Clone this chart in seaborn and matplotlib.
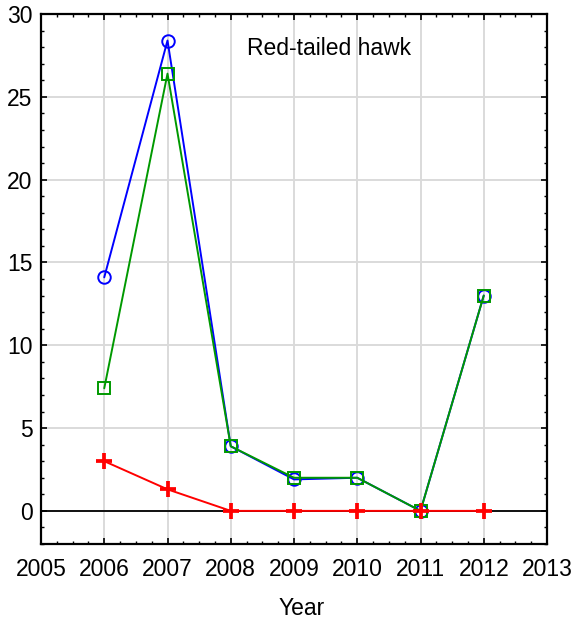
import matplotlib
matplotlib.use("Agg")
import matplotlib.pyplot as plt
import seaborn as sns
import pandas as pd
from matplotlib.ticker import MultipleLocator

years = [2006, 2007, 2008, 2009, 2010, 2011, 2012]
blue_vals = [14.1, 28.4, 3.9, 1.9, 2.0, 0.0, 13.0]
green_vals = [7.4, 26.4, 3.9, 2.0, 2.0, 0.0, 13.0]
red_vals = [3.0, 1.3, 0.0, 0.0, 0.0, 0.0, 0.0]

sns.set_style("white")
plt.rcParams['font.family'] = ['Liberation Sans', 'DejaVu Sans']
plt.rcParams['text.color'] = 'black'
plt.rcParams['axes.labelcolor'] = 'black'

fig = plt.figure(figsize=(5.78, 6.21), dpi=100)
ax = fig.add_axes([41/578, 1 - 544/621, (547-41)/578, (544-14)/621])

ax.axhline(0, color='black', lw=1.3, zorder=1)

df_b = pd.DataFrame({"Year": years, "v": blue_vals})
df_g = pd.DataFrame({"Year": years, "v": green_vals})
df_r = pd.DataFrame({"Year": years, "v": red_vals})

sns.lineplot(data=df_b, x="Year", y="v", ax=ax, color='#0000ff', lw=1.4,
             marker='o', markersize=9, markerfacecolor='none',
             markeredgecolor='#0000ff', markeredgewidth=1.4, zorder=3)
sns.lineplot(data=df_g, x="Year", y="v", ax=ax, color='#009900', lw=1.4,
             marker='s', markersize=9, markerfacecolor='none',
             markeredgecolor='#009900', markeredgewidth=1.4, zorder=4)
sns.lineplot(data=df_r, x="Year", y="v", ax=ax, color='#ff0000', lw=1.4,
             marker='+', markersize=12, markeredgewidth=2.7,
             markeredgecolor='#ff0000', zorder=5)

ax.set_xlim(2005, 2013)
ax.set_ylim(-2, 30)
ax.xaxis.set_major_locator(MultipleLocator(1))
ax.xaxis.set_minor_locator(MultipleLocator(0.25))
ax.yaxis.set_major_locator(MultipleLocator(5))
ax.yaxis.set_minor_locator(MultipleLocator(1))
ax.grid(True, which='major', color='#dadada', lw=1.4)
ax.set_axisbelow(True)
for s in ax.spines.values():
    s.set_color('black')
    s.set_linewidth(1.6)
ax.tick_params(which='both', direction='in', top=True, right=True,
               bottom=True, left=True, colors='black', labelcolor='black')
ax.tick_params(which='major', length=4, width=1.2, labelsize=16.5)
ax.tick_params(axis='x', which='major', pad=10)
ax.tick_params(axis='y', which='major', pad=6)
ax.tick_params(which='minor', length=2.5, width=1)
ax.set_xlabel("Year", fontsize=16.5, color='black')
ax.xaxis.set_label_coords(0.516, (544 - 597) / 530)
ax.set_ylabel("")
ax.text(0.57, 0.935, "Red-tailed hawk", transform=ax.transAxes,
        ha='center', va='center', fontsize=16.5, color='black')

fig.savefig("out.png", dpi=100)
